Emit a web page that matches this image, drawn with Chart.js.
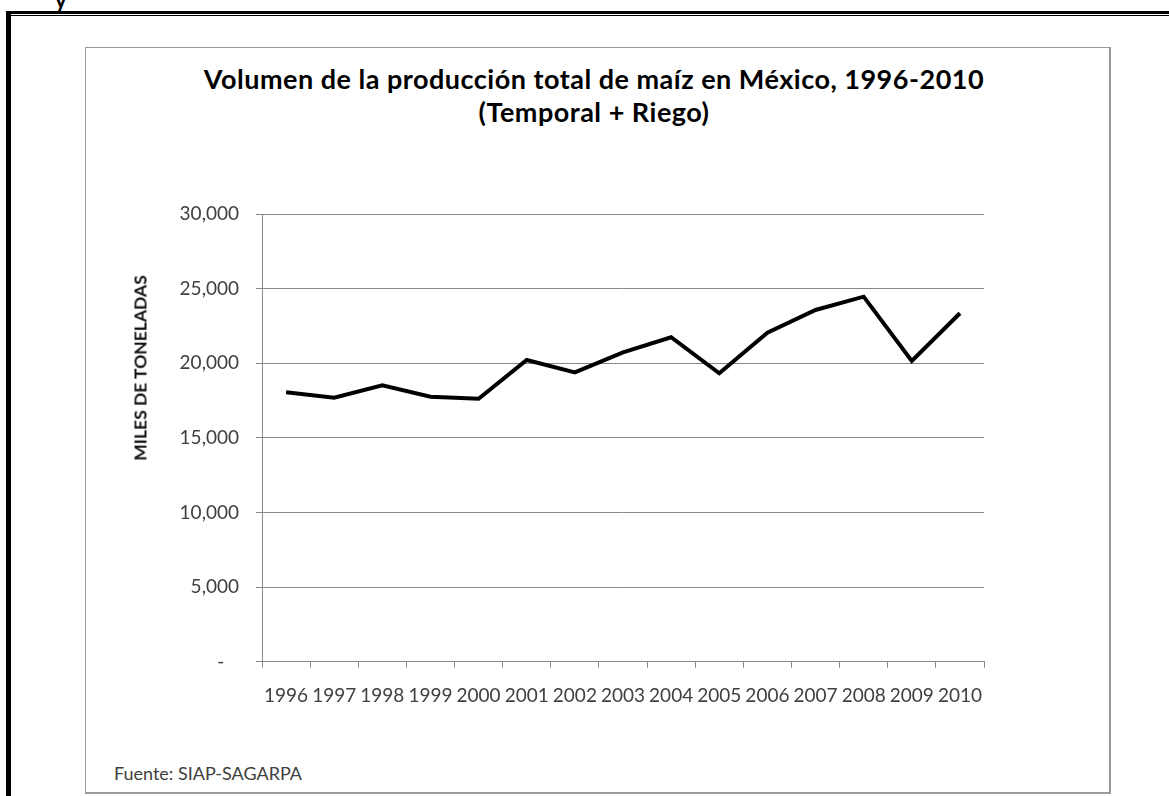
<!DOCTYPE html>
<html lang="es">
<head>
<meta charset="utf-8">
<title>Volumen de la producción total de maíz en México, 1996-2010</title>
<script src="https://cdn.jsdelivr.net/npm/chart.js@4.4.1/dist/chart.umd.min.js"></script>
<style>
  html, body { margin: 0; padding: 0; background: #fff; }
  body { width: 1169px; height: 796px; position: relative; overflow: hidden; font-family: Lato, "Open Sans", sans-serif; }
  .frag { position: absolute; left: 55px; top: -14px; font: bold 22px Lato, sans-serif; color: #000; }
  .rule-thick { position: absolute; left: 6px; top: 11px; width: 1163px; height: 3px; background: #000; }
  .rule-thin { position: absolute; left: 6px; top: 15px; width: 1163px; height: 1px; background: #000; }
  .rule-left { position: absolute; left: 6px; top: 11px; width: 5px; height: 785px; background: #000; }
  .box { position: absolute; left: 85px; top: 47px; width: 1023px; height: 744px; border: 1px solid #9a9a9a; border-right-width: 2px; border-bottom-width: 2px; background: #fff; }
  .title { position: absolute; left: 85px; width: 1018px; top: 62px; text-align: center; font: bold 27px/33px Lato, sans-serif; letter-spacing: 0.5px; color: #000; white-space: nowrap; }
  .source { position: absolute; left: 114px; top: 763px; font: 18px/20px Lato, sans-serif; color: #404040; }
  .ytitle { position: absolute; left: 140px; top: 368px; transform: translate(-50%, -50%) rotate(-90deg); font: bold 17.5px Lato, sans-serif; color: #111; white-space: nowrap; }
  #wrap { position: absolute; left: 0; top: 0; width: 1169px; height: 796px; }
</style>
</head>
<body>
<div class="frag">y</div>
<div class="rule-thick"></div>
<div class="rule-thin"></div>
<div class="rule-left"></div>
<div class="box"></div>
<div class="title">Volumen de la producción total de maíz en México, 1996-2010<br>(Temporal + Riego)</div>
<div class="source">Fuente: SIAP-SAGARPA</div>
<div id="wrap"><canvas id="chart" width="1169" height="796"></canvas></div>
<div class="ytitle" id="ytitle"></div>
<script>
// Producción de maíz (miles de toneladas), temporal + riego
const years = ['1996', '1997', '1998', '1999', '2000', '2001', '2002', '2003',
               '2004', '2005', '2006', '2007', '2008', '2009', '2010'];
const production = [18050, 17690, 18520, 17760, 17620, 20220, 19390, 20730,
                    21740, 19330, 22050, 23570, 24460, 20150, 23350];
const yTicks = [0, 5000, 10000, 15000, 20000, 25000, 30000];
const yAxisTitle = 'MILES DE TONELADAS';

document.getElementById('ytitle').textContent = yAxisTitle;

const gridGray = '#878787';
const labelGray = '#404040';

new Chart(document.getElementById('chart'), {
  type: 'line',
  data: {
    labels: years,
    datasets: [{
      data: production,
      borderColor: '#000',
      borderWidth: 4,
      tension: 0,
      pointRadius: 0,
      pointHoverRadius: 0,
      fill: false
    }]
  },
  options: {
    responsive: false,
    animation: false,
    events: [],
    layout: { padding: { left: 85, top: 214, right: 185, bottom: 74.3 } },
    plugins: { legend: { display: false }, tooltip: { enabled: false }, title: { display: false } },
    scales: {
      x: {
        type: 'category',
        offset: true,
        grid: { offset: true, drawOnChartArea: false, drawTicks: true, tickLength: 6, color: gridGray, lineWidth: 1 },
        border: { display: true, color: gridGray, width: 1 },
        ticks: { color: labelGray, font: { family: 'Lato', size: 19 }, padding: 17, maxRotation: 0, autoSkip: false },
        afterFit: (s) => { s.height = 60; }
      },
      y: {
        min: 0,
        max: 30000,
        afterBuildTicks: (s) => { s.ticks = yTicks.map(v => ({ value: v })); },
        grid: { color: gridGray, lineWidth: 1, drawTicks: true, tickLength: 6 },
        border: { display: true, color: gridGray, width: 1 },
        ticks: {
          color: labelGray,
          font: { family: 'Lato', size: 19 },
          padding: 17,
          callback: (v) => v === 0 ? '-   ' : v.toLocaleString('en-US')
        },
        afterFit: (s) => { s.width = 177; }
      }
    }
  }
});
</script>
</body>
</html>
